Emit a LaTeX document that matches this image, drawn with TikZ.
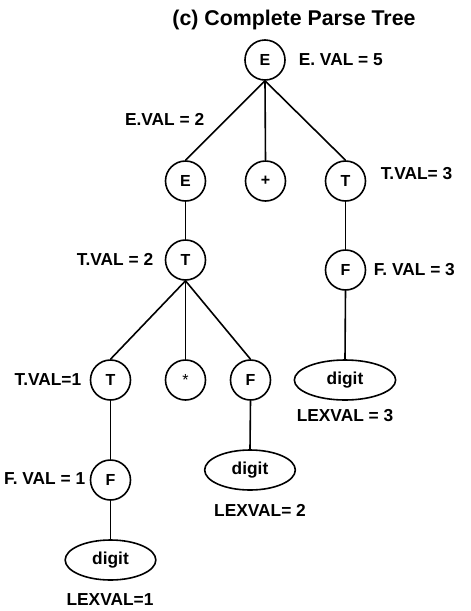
\documentclass[tikz,border=0pt]{standalone}
\usepackage{fontspec}
\setmainfont{Liberation Sans}
\usetikzlibrary{shapes.geometric}

\begin{document}
\begin{tikzpicture}[x=0.75pt,y=-0.75pt,line width=1.2pt,
    sym/.style={circle,draw,minimum size=30pt,inner sep=0pt,font=\fontsize{12}{14}\selectfont\bfseries},
    leaf/.style={ellipse,draw,minimum width=68pt,minimum height=30pt,inner sep=0pt,font=\fontsize{13}{15}\selectfont\bfseries},
    attr/.style={inner sep=0pt,font=\fontsize{13}{15}\selectfont\bfseries}]

    \useasboundingbox (0,0) rectangle (471,611);

    \draw (294,20) node[attr,font=\fontsize{16}{19}\selectfont\bfseries] (title) {(c) Complete Parse Tree};

    % tree nodes
    \draw (265,60) node[sym] (E0) {E};
    \draw (185.5,181) node[sym] (E1) {E};
    \draw (265.5,181) node[sym] (plus) {+};
    \draw (345.5,181) node[sym] (T0) {T};
    \draw (185.5,260) node[sym] (T1) {T};
    \draw (345.5,270) node[sym] (F0) {F};
    \draw (110.5,380) node[sym] (T2) {T};
    \draw (185.5,380) node[sym,font=\fontsize{12}{14}\selectfont] (star) {*};
    \draw (250.5,380) node[sym] (F1) {F};
    \draw (110.5,480) node[sym] (F2) {F};
    \draw (345,380) node[leaf,minimum width=76pt] (d0) {digit};
    \draw (250,470) node[leaf] (d1) {digit};
    \draw (110.5,560) node[leaf] (d2) {digit};

    % attribute values
    \draw (298,60) node[attr,anchor=west] (vE0) {E. VAL = 5};
    \draw (205,119) node[attr,anchor=east] (vE1) {E.VAL = 2};
    \draw (380,174) node[attr,anchor=west] (vT0) {T.VAL= 3};
    \draw (154,259) node[attr,anchor=east] (vT1) {T.VAL = 2};
    \draw (373,270) node[attr,anchor=west] (vF0) {F. VAL = 3};
    \draw (82,380) node[attr,anchor=east] (vT2) {T.VAL=1};
    \draw (86,479) node[attr,anchor=east] (vF2) {F. VAL = 1};
    \draw (345,416) node[attr] (vd0) {LEXVAL = 3};
    \draw (260,510) node[attr] (vd1) {LEXVAL= 2};
    \draw (110,600) node[attr] (vd2) {LEXVAL=1};

    % edges
    \draw (E0.south) -- (E1.north);
    \draw (E0.south) -- (plus.north);
    \draw (E0.south) -- (T0.north);
    \draw (E1.south) -- (T1.north);
    \draw (T0.south) -- (F0.north);
    \draw (F0.south) -- (d0.north);
    \draw (T1.south) -- (T2.north);
    \draw (T1.south) -- (star.north);
    \draw (T1.south) -- (F1.north);
    \draw (T2.south) -- (F2.north);
    \draw (F2.south) -- (d2.north);
    \draw (F1.south) -- (d1.north);

\end{tikzpicture}
\end{document}
